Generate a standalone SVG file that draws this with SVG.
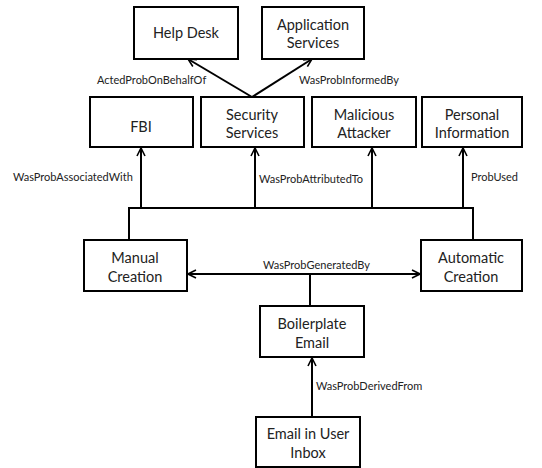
<svg xmlns="http://www.w3.org/2000/svg" width="542" height="468" viewBox="0 0 542 468">
<style>
.box{fill:#fff;stroke:#000;stroke-width:2}
.t{font-family:Lato,"Noto Sans",sans-serif;font-size:14.5px;fill:#222;text-anchor:middle}
.l{font-family:Lato,"Noto Sans",sans-serif;font-size:11px;fill:#222}
.c{fill:none;stroke:#000;stroke-width:2}
</style>
<defs>
<marker id="ah" viewBox="0 0 10 10" refX="9" refY="5" markerWidth="10" markerHeight="10" markerUnits="userSpaceOnUse" orient="auto-start-reverse">
<path d="M1,1 L9,5 L1,9" fill="none" stroke="#000" stroke-width="1.6"/>
</marker>
</defs>
<rect width="542" height="468" fill="#fff"/>
<g id="connectors">
<line class="c" x1="252" y1="97" x2="188" y2="59" marker-end="url(#ah)"/>
<line class="c" x1="252" y1="97" x2="312" y2="59" marker-end="url(#ah)"/>
<polyline class="c" points="129,240 129,208 473,208 473,240"/>
<line class="c" x1="141" y1="208" x2="141" y2="148" marker-end="url(#ah)"/>
<line class="c" x1="255" y1="208" x2="255" y2="148" marker-end="url(#ah)"/>
<line class="c" x1="372" y1="208" x2="372" y2="148" marker-end="url(#ah)"/>
<line class="c" x1="463" y1="208" x2="463" y2="148" marker-end="url(#ah)"/>
<line class="c" x1="188" y1="274" x2="420" y2="274" marker-start="url(#ah)" marker-end="url(#ah)"/>
<line class="c" x1="310" y1="274" x2="310" y2="306"/>
<line class="c" x1="312" y1="417" x2="312" y2="358" marker-end="url(#ah)"/>
<text class="l" x="97" y="84">ActedProbOnBehalfOf</text>
<text class="l" x="299" y="84">WasProbInformedBy</text>
<text class="l" x="13" y="181">WasProbAssociatedWith</text>
<text class="l" x="259" y="183">WasProbAttributedTo</text>
<text class="l" x="471" y="181">ProbUsed</text>
<text class="l" x="263" y="269">WasProbGeneratedBy</text>
<text class="l" x="316" y="390">WasProbDerivedFrom</text>
</g>
<g id="help-desk"><rect class="box" x="134" y="7" width="104" height="52"/><text class="t" x="186" y="38">Help Desk</text></g>
<g id="application-services"><rect class="box" x="262" y="7" width="102" height="52"/><text class="t" x="313" y="30">Application</text><text class="t" x="313" y="48">Services</text></g>
<g id="fbi"><rect class="box" x="90" y="97" width="103" height="50"/><text class="t" x="141" y="132">FBI</text></g>
<g id="security-services"><rect class="box" x="201" y="97" width="103" height="50"/><text class="t" x="252" y="120">Security</text><text class="t" x="252" y="138">Services</text></g>
<g id="malicious-attacker"><rect class="box" x="312" y="97" width="104" height="50"/><text class="t" x="364" y="120">Malicious</text><text class="t" x="364" y="138">Attacker</text></g>
<g id="personal-information"><rect class="box" x="422" y="97" width="100" height="50"/><text class="t" x="472" y="120">Personal</text><text class="t" x="472" y="138">Information</text></g>
<g id="manual-creation"><rect class="box" x="84" y="240" width="103" height="51"/><text class="t" x="135" y="263">Manual</text><text class="t" x="135" y="282">Creation</text></g>
<g id="automatic-creation"><rect class="box" x="421" y="240" width="101" height="51"/><text class="t" x="471" y="263">Automatic</text><text class="t" x="471" y="282">Creation</text></g>
<g id="boilerplate-email"><rect class="box" x="260" y="306" width="104" height="51"/><text class="t" x="312" y="329">Boilerplate</text><text class="t" x="312" y="348">Email</text></g>
<g id="email-in-user-inbox"><rect class="box" x="256" y="417" width="104" height="50"/><text class="t" x="308" y="439">Email in User</text><text class="t" x="308" y="458">Inbox</text></g>
</svg>
